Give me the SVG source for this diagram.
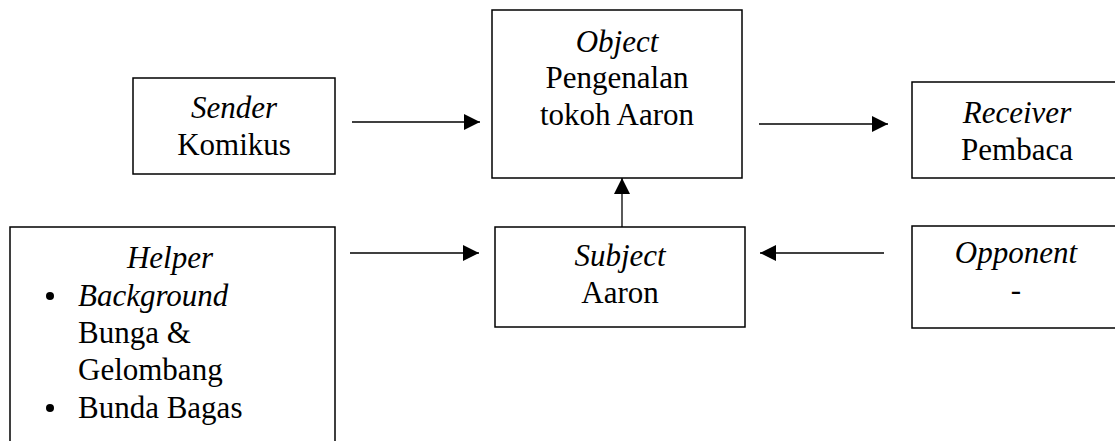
<svg xmlns="http://www.w3.org/2000/svg" width="1115" height="441" viewBox="0 0 1115 441">
<style>
.box{fill:#fff;stroke:#000;stroke-width:1.5}
text{font-family:"Liberation Serif","Times New Roman",serif;font-size:31px;fill:#000}
.c{text-anchor:middle}
.i{font-style:italic}
.ln{stroke:#000;stroke-width:1.3;fill:none}
</style>
<defs>
<marker id="ah" markerUnits="userSpaceOnUse" markerWidth="18" markerHeight="18" viewBox="0 0 18 18" refX="16" refY="9" orient="auto">
<path d="M0,1 L16,9 L0,17 Z" fill="#000"/>
</marker>
</defs>
<rect width="1115" height="441" fill="#fff"/>
<g id="sender">
<rect class="box" x="133" y="78" width="202" height="96"/>
<text class="c i" x="234" y="118">Sender</text>
<text class="c" x="234" y="155">Komikus</text>
</g>
<g id="object">
<rect class="box" x="492" y="10" width="250" height="168"/>
<text class="c i" x="617" y="52">Object</text>
<text class="c" x="617" y="88">Pengenalan</text>
<text class="c" x="617" y="125">tokoh Aaron</text>
</g>
<g id="receiver">
<rect class="box" x="912" y="82" width="215" height="96"/>
<text class="c i" x="1017" y="123">Receiver</text>
<text class="c" x="1017" y="160">Pembaca</text>
</g>
<g id="helper">
<path class="box" d="M10,445 V227 H335 V445"/>
<text class="c i" x="170" y="268">Helper</text>
<circle cx="50" cy="296" r="4"/>
<text class="i" x="78" y="306">Background</text>
<text x="78" y="343">Bunga &amp;</text>
<text x="78" y="380">Gelombang</text>
<circle cx="50" cy="408" r="4"/>
<text x="78" y="418">Bunda Bagas</text>
</g>
<g id="subject">
<rect class="box" x="495" y="227" width="250" height="100"/>
<text class="c i" x="620" y="266">Subject</text>
<text class="c" x="620" y="303">Aaron</text>
</g>
<g id="opponent">
<rect class="box" x="912" y="226" width="215" height="102"/>
<text class="c i" x="1016" y="263">Opponent</text>
<text class="c" x="1016" y="300">-</text>
</g>
<g id="connectors">
<line class="ln" x1="352" y1="122" x2="480" y2="122" marker-end="url(#ah)"/>
<line class="ln" x1="759" y1="124" x2="888" y2="124" marker-end="url(#ah)"/>
<line class="ln" x1="350" y1="253" x2="479" y2="253" marker-end="url(#ah)"/>
<line class="ln" x1="884" y1="253" x2="760" y2="253" marker-end="url(#ah)"/>
<line class="ln" x1="622" y1="227" x2="622" y2="178" marker-end="url(#ah)"/>
</g>
</svg>
